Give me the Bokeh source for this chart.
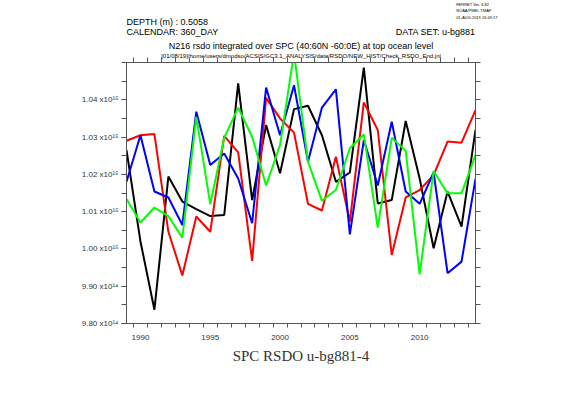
from bokeh.plotting import figure
from bokeh.models import FixedTicker, LinearAxis, CustomJSTickFormatter, Range1d, Title
from bokeh.embed import file_html
from bokeh.resources import INLINE

# ---- data (values in units of 1e15) ----
years = [1989.5 + i for i in range(26)]
black = [1.0265, 1.0020, 0.9837, 1.0194, 1.0127, 1.0107, 1.0088, 1.0091, 1.0444,
         1.0131, 1.0332, 1.0203, 1.0375, 1.0384, 1.0305, 1.0180, 1.0205,
         1.0486, 1.0122, 1.0131, 1.0343, 1.0189, 1.0002, 1.0154, 1.0060, 1.0319]
red = [1.0290, 1.0305, 1.0308, 1.0046, 0.9929, 1.0087, 1.0046, 1.0303, 1.0259,
       0.9968, 1.0405, 1.0350, 1.0312, 1.0121, 1.0103, 1.0247, 1.0073,
       1.0393, 1.0319, 0.9984, 1.0138, 1.0158, 1.0198, 1.0288, 1.0285, 1.0372]
blue = [1.0180, 1.0305, 1.0154, 1.0138, 1.0064, 1.0368, 1.0225, 1.0256, 1.0189,
        1.0069, 1.0433, 1.0305, 1.0439, 1.0234, 1.0379, 1.0428, 1.0039,
        1.0292, 1.0170, 1.0341, 1.0154, 1.0121, 1.0205, 0.9935, 0.9966, 1.0188]
green = [1.0134, 1.0071, 1.0111, 1.0088, 1.0030, 1.0354, 1.0120, 1.0298, 1.0379,
         1.0301, 1.0170, 1.0279, 1.0525, 1.0234, 1.0129, 1.0158, 1.0270,
         1.0307, 1.0057, 1.0298, 1.0263, 0.9932, 1.0209, 1.0149, 1.0149, 1.0252]

x_label_ticks = [1990.5, 1995.5, 2000.5, 2005.5, 2010.5]
x_minor = list(range(1990, 2015))
y_ticks = [0.98, 0.99, 1.00, 1.01, 1.02, 1.03, 1.04]
y_minor = [round(0.98 + 0.005 * i, 3) for i in range(15)]

FONT = "Liberation Sans"
AX = "#555555"
TXT = "#333333"

p = figure(width=553, height=389, output_backend="svg", toolbar_location=None,
           x_range=Range1d(1989.5, 2014.5), y_range=Range1d(0.98, 1.05),
           x_axis_type=None, y_axis_type=None,
           min_border_left=126, min_border_right=78, min_border_top=62, min_border_bottom=66)
p.xgrid.visible = False
p.ygrid.visible = False
p.outline_line_color = AX
p.background_fill_color = "white"
p.border_fill_color = "white"

def style(ax):
    ax.axis_line_color = AX
    ax.major_tick_line_color = AX
    ax.minor_tick_line_color = AX
    ax.major_label_text_font = FONT
    ax.major_label_text_font_size = "8px"
    ax.major_label_text_color = TXT

bx = LinearAxis(ticker=FixedTicker(ticks=x_label_ticks, minor_ticks=x_minor),
                formatter=CustomJSTickFormatter(code="return String(Math.floor(tick));"))
style(bx)
bx.major_tick_out = 0
bx.major_tick_in = 0
bx.minor_tick_out = 4
bx.minor_tick_in = 0
bx.major_label_standoff = 7
bx.axis_label = "SPC RSDO u-bg881-4"
bx.axis_label_text_font = "Liberation Serif"
bx.axis_label_text_font_size = "15px"
bx.axis_label_text_font_style = "normal"
bx.axis_label_text_color = TXT
bx.axis_label_standoff = 5
p.add_layout(bx, "below")

tx = LinearAxis(ticker=FixedTicker(ticks=[], minor_ticks=x_minor))
style(tx)
tx.minor_tick_out = 5
tx.minor_tick_in = 0
tx.major_label_standoff = 0
p.add_layout(tx, "above")

ly = LinearAxis(ticker=FixedTicker(ticks=y_ticks, minor_ticks=y_minor),
                formatter=CustomJSTickFormatter(code="""
if (tick < 0.995) { return (tick*10).toFixed(2) + " x10\u00b9\u2074"; }
return tick.toFixed(2) + " x10\u00b9\u2075";
"""))
style(ly)
ly.major_tick_out = 5
ly.major_tick_in = 0
ly.minor_tick_out = 5
ly.minor_tick_in = 0
ly.major_label_standoff = 3
p.add_layout(ly, "left")

ry = LinearAxis(ticker=FixedTicker(ticks=[], minor_ticks=y_minor))
style(ry)
ry.minor_tick_out = 5
ry.minor_tick_in = 0
p.add_layout(ry, "right")

for ys, c in [(black, "black"), (red, "#ff0000"), (blue, "#0000ff"), (green, "#00ff00")]:
    p.line(years, ys, line_color=c, line_width=2)

def title(text, size, align="left", offset=0, standoff=0, valign="bottom", lh=1.2):
    t = Title(text=text, text_font=FONT, text_font_size=size, text_font_style="normal",
              text_color="black", align=align, offset=offset, standoff=standoff,
              vertical_align=valign, text_line_height=lh)
    p.add_layout(t, "above")

# stacked from the frame outward
title("[01/08/19]/home/users/dmodso/ACSIS/GC3.1_ANALYSIS/data/RSDO/NEW_HIST/Check_RSDO_End.jnl",
      "6px", align="center", standoff=-3)
title("N216 rsdo integrated over SPC (40:60N -60:0E) at top ocean level", "9px", align="center", standoff=3)
title("DATA SET: u-bg881", "9px", align="right", standoff=-22, valign="top")
title("CALENDAR: 360_DAY", "9px", standoff=2)
title("DEPTH (m) : 0.5058", "9px", standoff=-6)
title("FERRET Ver. 6.82\nNOAA/PMEL TMAP\n01-AUG-2019 16:49:17", "4px", align="right", offset=-22,
      lh=1.25, standoff=-4)

open("out.html", "w").write(file_html(p, INLINE))
